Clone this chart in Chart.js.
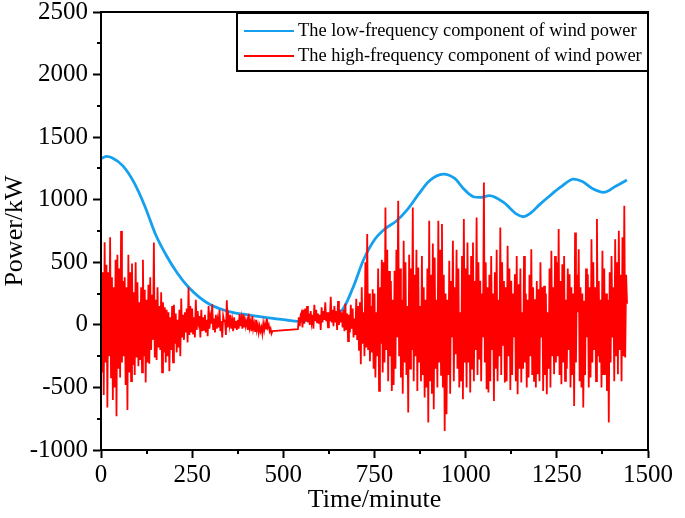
<!DOCTYPE html>
<html>
<head>
<meta charset="utf-8">
<script src="https://cdn.jsdelivr.net/npm/chart.js@4.4.1/dist/chart.umd.min.js"></script>
<style>
  html, body { margin: 0; padding: 0; background: #fff; }
  canvas { display: block; }
</style>
</head>
<body>
<canvas id="windChart" width="685" height="518"></canvas>
<script>
// Low-frequency component (minute, kW)
const lfMinutes = [0,15,30,60,90,120,150,180,210,240,270,300,330,360,390,420,450,480,510,540,570,600,630,660,690,720,750,780,810,840,870,900,939,970,995,1021,1040,1065,1104,1140,1158,1177,1204,1230,1260,1296,1320,1350,1378,1410,1442];
const lfValues = [1328,1346,1335,1270,1140,950,720,550,410,300,220,160,125,100,85,72,60,48,38,28,35,60,90,115,290,520,680,770,830,920,1040,1150,1205,1170,1085,1024,1018,1032,978,885,864,890,965,1030,1100,1165,1145,1085,1059,1105,1157];

// High-frequency component, one value every 2.5 minutes from minute 0 (null = no data)
const hfStep = 2.5;
const hfValues = [
  // 0
  150,-380,420,-560,660,-300,480,-660,420,-250,700,-420,380,-600,300,-500,520,-730,560,-350,
  // 50
  450,-420,750,-300,350,-250,380,-480,300,-680,560,-380,420,-450,490,-320,260,-400,500,-260,
  // 100
  340,-330,180,-280,300,-380,520,-250,280,-460,200,-300,320,-310,380,-200,240,-120,658,-260,
  // 150
  200,-280,300,-180,150,-200,260,-380,180,-220,140,-300,120,-250,100,-370,60,-200,150,-300,
  // 200
  160,-150,90,-220,40,-180,120,-250,210,-100,80,-120,100,-60,130,-140,300,-80,150,-60,
  // 250
  130,-70,60,-100,200,-40,110,20,70,-100,120,-50,60,-40,80,-60,40,-90,150,-30,
  // 300
  60,10,165,-40,50,-60,80,-30,40,-20,120,-50,30,-100,70,30,40,-80,197,-20,
  // 350
  60,0,80,-30,30,-50,60,-20,30,-40,40,-30,85,-10,50,-30,85,-20,40,0,
  // 400
  30,-40,88,-20,20,-50,70,-30,10,-50,40,-40,0,-60,-10,-50,-20,-70,10,-40,
  // 450
  10,-30,48,-20,0,-50,-30,-70,-50,null,null,null,null,null,null,null,null,null,null,null,
  // 500
  null,null,null,null,null,null,null,null,null,null,null,null,null,null,null,null,-35,60,-10,80,
  // 550
  100,-20,120,10,130,30,150,20,90,0,110,20,80,-30,160,30,120,20,90,10,
  // 600
  80,-40,140,20,110,40,180,30,100,-20,100,30,224,20,120,-10,150,20,110,-40,
  // 650
  190,0,120,20,100,-20,120,-50,170,-40,90,-130,80,-60,160,-30,130,-100,50,-80,
  // 700
  208,-120,150,-200,180,-314,300,-150,100,-250,500,-180,725,-200,250,-290,150,-220,285,-350,
  // 750
  250,-420,100,-250,450,-528,300,-150,520,-380,500,-300,938,-200,600,-450,430,-250,350,-528,
  // 800
  200,-480,432,-350,600,-100,992,-250,450,-421,200,-550,672,-300,500,-400,150,-701,560,-350,
  // 850
  450,-200,938,-450,400,-250,600,-528,458,-300,150,-450,550,-400,300,-581,200,-500,450,-781,
  // 900
  832,-450,400,-550,650,-674,538,-350,200,-500,832,-300,600,-400,805,-500,400,-848,250,-714,
  // 950
  200,-400,512,-550,350,-100,672,-450,300,-234,600,-350,450,-500,100,-450,550,-594,845,-300,
  // 1000
  450,-500,658,-300,400,-541,550,-350,658,-450,350,-200,858,-400,500,-277,352,-450,250,-100,
  // 1050
  1138,-300,500,-514,300,-541,400,-450,550,-200,250,-608,420,-350,600,-450,200,-250,778,-400,
  // 1100
  500,-160,350,-461,300,-450,632,-250,450,-521,352,-400,250,-100,405,-450,550,-554,325,-350,
  // 1150
  450,-461,100,-350,550,-300,250,-501,200,-420,400,-250,605,-400,300,-448,205,-500,350,-394,
  // 1200
  285,-450,500,-100,300,-528,312,-400,250,-554,100,-350,450,-500,592,-250,300,-394,550,-300,
  // 1250
  500,-250,765,-400,350,-474,485,-300,550,-448,200,-350,450,-200,405,-500,300,-400,250,-648,
  // 1300
  738,-300,400,100,605,-450,300,-500,250,-661,192,-400,450,-100,405,-500,300,-421,685,-300,
  // 1350
  500,-200,300,-450,845,-250,350,-301,200,-500,592,-400,450,-400,250,-528,200,-781,420,-300,
  // 1400
  550,-100,300,-450,685,-250,500,-394,752,-200,400,-450,700,-250,952,-261,400,168
];

const seriesNames = ['The low-frequency component of wind power', 'The high-frequency component of wind power'];
const seriesColors = ['#14a0ee', '#ff0000'];

const xTicks = [0, 250, 500, 750, 1000, 1250, 1500];
const yTicks = [-1000, -500, 0, 500, 1000, 1500, 2000, 2500];
const xMinorTicks = [125, 375, 625, 875, 1125, 1375];
const yMinorTicks = [-750, -250, 250, 750, 1250, 1750, 2250];

const serif = 'Liberation Serif';

// Frame, minor ticks and the boxed legend
const framePlugin = {
  id: 'framePlugin',
  afterDraw(chart) {
    const { ctx, chartArea: a, scales } = chart;
    ctx.save();
    ctx.strokeStyle = '#000';
    ctx.lineWidth = 2;
    ctx.strokeRect(a.left, a.top, a.right - a.left, a.bottom - a.top);

    ctx.beginPath();
    yMinorTicks.forEach(v => {
      const py = Math.round(scales.y.getPixelForValue(v));
      ctx.moveTo(a.left - 4, py);
      ctx.lineTo(a.left, py);
    });
    xMinorTicks.forEach(v => {
      const px = Math.round(scales.x.getPixelForValue(v));
      ctx.moveTo(px, a.bottom);
      ctx.lineTo(px, a.bottom + 4);
    });
    ctx.stroke();

    // legend box
    const bw = 411, bh = 58;
    const bx = a.right - bw, by = a.top + 1;
    ctx.fillStyle = '#fff';
    ctx.fillRect(bx, by, bw, bh);
    ctx.strokeRect(bx, by, bw, bh);
    ctx.font = '18.4px "' + serif + '"';
    ctx.textBaseline = 'middle';
    seriesNames.forEach((name, i) => {
      const ly = by + 18 + i * 25;
      ctx.strokeStyle = seriesColors[i];
      ctx.beginPath();
      ctx.moveTo(bx + 7, ly);
      ctx.lineTo(bx + 57, ly);
      ctx.stroke();
      ctx.fillStyle = '#000';
      ctx.fillText(name, bx + 61, ly);
    });
    ctx.restore();
  }
};

new Chart(document.getElementById('windChart'), {
  type: 'line',
  data: {
    datasets: [
      {
        label: seriesNames[0],
        data: lfMinutes.map((m, i) => ({ x: m, y: lfValues[i] })),
        borderColor: seriesColors[0],
        borderWidth: 2.8,
        pointRadius: 0,
        cubicInterpolationMode: 'monotone',
        order: 1
      },
      {
        label: seriesNames[1],
        data: hfValues.map((v, i) => ({ x: i * hfStep, y: v })),
        borderColor: seriesColors[1],
        borderWidth: 1.8,
        pointRadius: 0,
        tension: 0,
        spanGaps: true,
        order: 0
      }
    ]
  },
  options: {
    responsive: false,
    animation: false,
    devicePixelRatio: 1,
    layout: { padding: { left: 0, right: 37, top: 12, bottom: 0 } },
    plugins: { legend: { display: false }, tooltip: { enabled: false } },
    scales: {
      x: {
        type: 'linear',
        min: 0,
        max: 1500,
        afterBuildTicks: s => { s.ticks = xTicks.map(v => ({ value: v })); },
        afterFit: s => { s.height = 68; s.paddingLeft = 0; s.paddingRight = 0; },
        ticks: { color: '#000', font: { family: serif, size: 25 }, padding: 2, maxRotation: 0, callback: v => String(v) },
        grid: { drawOnChartArea: false, tickLength: 8, tickColor: '#000', tickWidth: 2 },
        border: { color: '#000', width: 2 },
        title: { display: true, text: 'Time/minute', color: '#000', font: { family: serif, size: 26 }, padding: { top: 0, bottom: 2 } }
      },
      y: {
        min: -1000,
        max: 2500,
        afterBuildTicks: s => { s.ticks = yTicks.map(v => ({ value: v })); },
        afterFit: s => { s.width = 101; s.paddingTop = 0; s.paddingBottom = 0; },
        ticks: { color: '#000', font: { family: serif, size: 25 }, padding: 5, callback: v => String(v) },
        grid: { drawOnChartArea: false, tickLength: 8, tickColor: '#000', tickWidth: 2 },
        border: { color: '#000', width: 2 },
        title: { display: true, text: 'Power/kW', color: '#000', font: { family: serif, size: 26 }, padding: { top: 0, bottom: 0 } }
      }
    }
  },
  plugins: [framePlugin]
});
</script>
</body>
</html>
